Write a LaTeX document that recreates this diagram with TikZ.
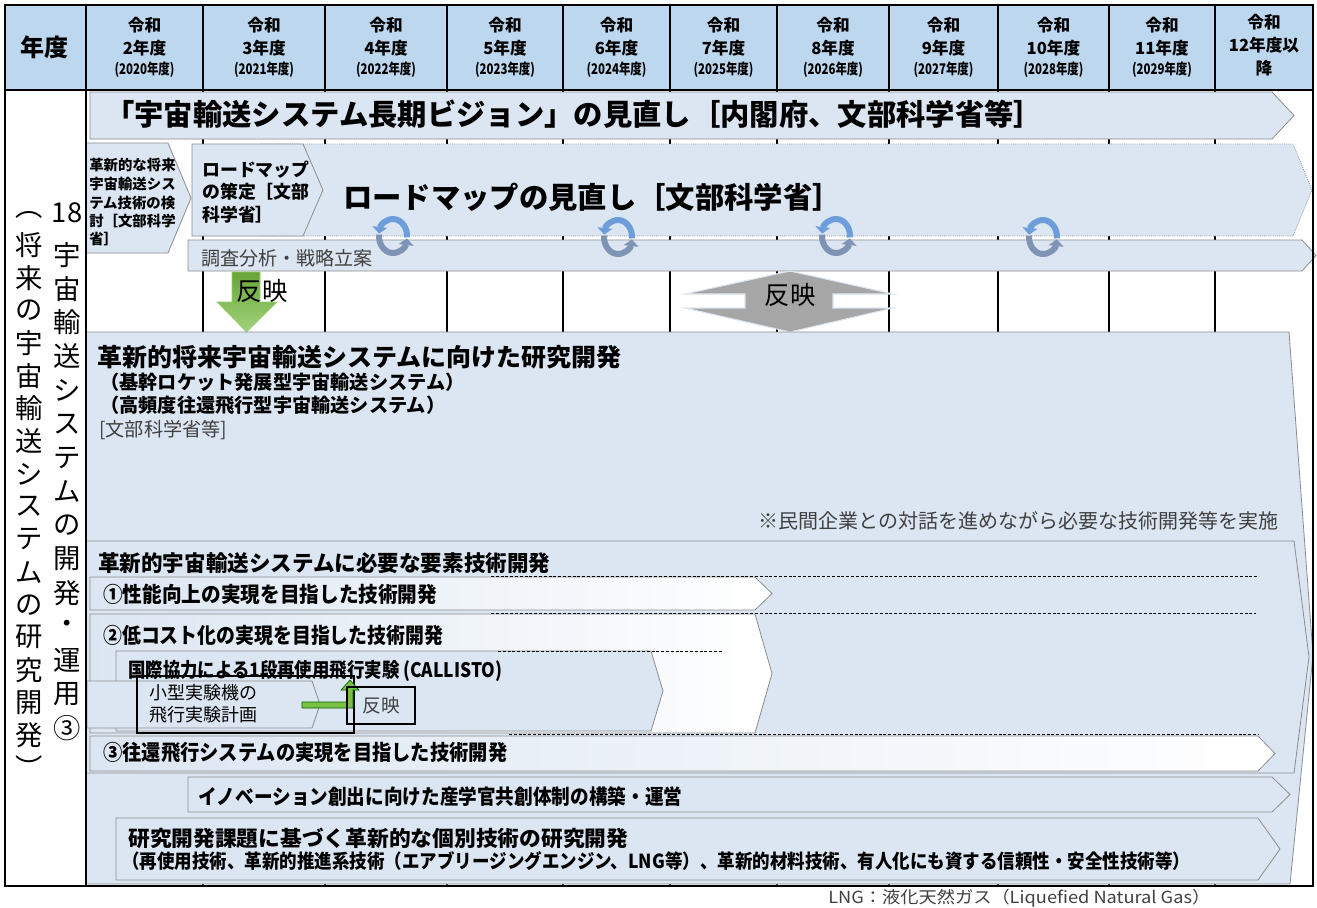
\documentclass[tikz,border=0pt]{standalone}
\usepackage{fontspec}
\setmainfont{Noto Sans CJK JP}
\usepackage{graphicx}
\usetikzlibrary{arrows.meta}
\newdimen\px \px=0.75pt
\newcommand\fs[1]{\fontsize{#1}{#1}\selectfont}
\newcommand\fitw[2]{\resizebox{#1\px}{\height}{#2}}
\definecolor{hdr}{HTML}{BDD7EE}
\definecolor{lb}{HTML}{DCE6F2}
\definecolor{bd}{HTML}{8C8C8C}
\definecolor{grn}{HTML}{7AC143}
\definecolor{cyc}{HTML}{6D9EDB}
\definecolor{cycd}{HTML}{7F93B5}
\definecolor{gry}{HTML}{A6A6A6}
\definecolor{dtx}{HTML}{404040}
\newcommand\chev[6][]{\draw[#1] (#2,#3) -- ({#4-#6},#3) -- (#4,{(#3+#5)/2}) -- ({#4-#6},#5) -- (#2,#5) -- cycle;}
\newcommand\cycicon[2]{%
  \draw[cycst,cycd,-{Triangle[width=11pt,length=5pt]}] (#1,#2) ++(185:14 and 17) arc[start angle=185,end angle=8,x radius=14,y radius=17];
  \draw[cycst,-{Triangle[width=11pt,length=5pt]}] (#1,#2) ++(5:14 and 17) arc[start angle=5,end angle=-172,x radius=14,y radius=17];}
\tikzset{
  box/.style={fill=lb, draw=bd, line width=0.6pt},
  boxdot/.style={fill=lb, draw=bd, densely dotted, line width=0.6pt},
  grad/.style={left color=lb, right color=white, draw=bd, line width=0.6pt},
  txt/.style={inner sep=0pt, anchor=west},
  vt/.style={inner sep=0pt, font=\fs{20.5}},
  hd/.style={inner sep=0pt, font=\fs{12.5}\bfseries},
  gridln/.style={black, line width=1.1pt},
  frame/.style={black, line width=1.8pt},
  dashln/.style={black, line width=0.6pt, dash pattern=on 2.2pt off 1.4pt},
  cycst/.style={cyc, line width=4.5pt},
}
\begin{document}
\begin{tikzpicture}[x=0.75pt,y=-0.75pt]
\useasboundingbox (0,0) rectangle (1317,907);
\fill[white] (0,0) rectangle (1317,907);
% header
\fill[hdr] (5,5) rectangle (1313,90);
\foreach \x in {203,325,447,563,670,777,889,998,1109,1215}
  \draw[gridln] (\x,5) -- (\x,886);
\node[inner sep=0pt, font=\fs{18}\bfseries] (hy) at (45,47) {年度};
\foreach \cx/\n/\yr [count=\i] in {144.5/2/2020,264/3/2021,386/4/2022,505/5/2023,616.5/6/2024,723.5/7/2025,833/8/2026,943.5/9/2027,1053.5/10/2028,1162/11/2029} {
  \node[hd] (ha\i) at (\cx,25) {令和};
  \node[hd] (hb\i) at (\cx,48) {\n{}年度};
  \node[inner sep=0pt, font=\fs{11}\bfseries] (hc\i) at (\cx,70) {\fitw{60}{(\yr{}年度)}};
}
\node[hd] (hal) at (1264,22) {令和};
\node[hd] (hbl) at (1264,45) {12年度以};
\node[hd] (hcl) at (1264,68) {降};
% left vertical texts
\node[vt] (v18) at (67,213) {18};
\foreach \c [count=\i] in {宇,宙,輸,送,シ,ス,テ,ム,の,開,発,・,運,用,③}
  \node[vt] (va\i) at (67,{255+33.8*(\i-1)}) {\c};
\node[vt] (vp1) at (29,215) {︵};
\foreach \c [count=\i] in {将,来,の,宇,宙,輸,送,シ,ス,テ,ム,の,研,究,開,発}
  \node[vt] (vb\i) at (29,{245+32.7*(\i-1)}) {\c};
\node[vt] (vp2) at (29,767) {︶};
% row A
\chev[box]{90}{92}{1294}{139}{22}
\node[txt, font=\fs{22}\bfseries] (ta) at (105,114) {「宇宙輸送システム長期ビジョン」の見直し［内閣府、文部科学省等］};
% row B
\chev[boxdot]{260}{144}{1312}{236}{19}
\chev[box]{86}{143}{191}{253}{23}
\chev[box]{192}{144}{323}{236}{20}
\foreach \t/\yy [count=\i] in {革新的な将来/165,宇宙輸送シス/184,テム技術の検/203,討［文部科学/221,省］/239}
  \node[txt, font=\fs{10.8}\bfseries] (tb\i) at (89,\yy) {\t};
\foreach \t/\yy [count=\i] in {ロードマップ/170,の策定［文部/192,科学省］/215}
  \node[txt, font=\fs{13.4}\bfseries] (tc\i) at (202,\yy) {\t};
\node[txt, font=\fs{22}\bfseries] (td) at (343,197) {ロードマップの見直し［文部科学省］};
% row C
\chev[box]{188}{240}{1316}{271}{14}
\node[txt, font=\fs{14.3}, text=dtx] (te) at (201,258) {調査分析・戦略立案};
\cycicon{393}{236}
\cycicon{618}{237}
\cycicon{836}{236}
\cycicon{1043}{237}
% row D
\draw[top color=grn!85!black, bottom color=grn!70!white, draw=grn!80!white] (232,272) -- (260,272) -- (260,302) -- (277,302) -- (246.5,332) -- (217,302) -- (232,302) -- cycle;
\node[inner sep=0pt, font=\fs{19}] (rf1) at (262,291) {反映};
\draw[fill=gry, draw=lb, line width=0.8pt] (685,294) -- (790,271) -- (893,294) -- (833,294) -- (833,308) -- (893,308) -- (790,332) -- (685,308) -- (745,308) -- (745,294) -- cycle;
\node[inner sep=0pt, font=\fs{19}] (rf2) at (790,295) {反映};
% row E
\draw[box] (86,332) -- (1289,332) -- (1313,655) -- (1290,884) -- (86,884) -- cycle;
\node[txt, font=\fs{18.5}\bfseries] (tf) at (97,357) {\fitw{524}{革新的将来宇宙輸送システムに向けた研究開発}};
\node[txt, font=\fs{14.4}\bfseries] (tg) at (100,382) {（基幹ロケット発展型宇宙輸送システム）};
\node[txt, font=\fs{14.4}\bfseries] (th) at (100,405) {（高頻度往還飛行型宇宙輸送システム）};
\node[txt, font=\fs{14.4}, text=dtx] (ti) at (99,430) {[文部科学省等]};
\node[inner sep=0pt, anchor=east, font=\fs{15}, text=dtx] (tj) at (1279,521) {※民間企業との対話を進めながら必要な技術開発等を実施};
% row F
\draw[box] (86,541) -- (1294,541) -- (1309,657) -- (1294,773) -- (86,773) -- cycle;
\node[txt, font=\fs{16.5}\bfseries] (tk) at (98,563) {\fitw{452}{革新的宇宙輸送システムに必要な要素技術開発}};
\chev[grad]{90}{577}{772}{610}{17}
\chev[grad]{90}{614}{772}{733}{17}
\chev[box]{116}{651}{663}{731}{12}
\node[txt, font=\fs{16}\bfseries] (tl) at (103,594) {\fitw{334}{①性能向上の実現を目指した技術開発}};
\node[txt, font=\fs{16}\bfseries] (tm) at (103,635) {\fitw{340}{②低コスト化の実現を目指した技術開発}};
\node[txt, font=\fs{15}\bfseries] (tn) at (128,671) {\fitw{374}{国際協力による1段再使用飛行実験 (CALLISTO)}};
\chev[box]{87}{681}{320}{728}{8}
\node[txt, font=\fs{13.5}] (to1) at (149,693) {小型実験機の};
\node[txt, font=\fs{13.5}] (to2) at (149,715) {飛行実験計画};
\draw[black, line width=1pt] (137,676) rectangle (354,733);
\draw[fill=grn, draw=green!40!black, line width=0.5pt] (302,702) -- (347,702) -- (347,690) -- (341,690) -- (350,680) -- (359,690) -- (353,690) -- (353,708) -- (302,708) -- cycle;
\draw[black, line width=0.8pt] (347,687) rectangle (415,724);
\node[inner sep=0pt, font=\fs{14}, text=dtx] (rf3) at (381,705) {反映};
\chev[grad]{90}{736}{1275}{771}{17}
\node[txt, font=\fs{16}\bfseries] (tp) at (103,753) {\fitw{404}{③往還飛行システムの実現を目指した技術開発}};
\draw[dashln] (491,576) -- (1259,576);
\draw[dashln] (491,613) -- (1256,613);
\draw[dashln] (498,651) -- (722,651);
\draw[dashln] (509,734) -- (1258,734);
% row G, H
\chev[box]{188}{777}{1290}{812}{18}
\node[txt, font=\fs{15.5}\bfseries] (tq) at (198,797) {\fitw{484}{イノベーション創出に向けた産学官共創体制の構築・運営}};
\chev[box]{116}{818}{1280}{880}{22}
\node[txt, font=\fs{16}\bfseries] (tr) at (128,838) {\fitw{500}{研究開発課題に基づく革新的な個別技術の研究開発}};
\node[txt, font=\fs{14.5}\bfseries] (ts) at (122,861) {\fitw{1068}{（再使用技術、革新的推進系技術（エアブリージングエンジン、LNG等）、革新的材料技術、有人化にも資する信頼性・安全性技術等）}};
% frame
\draw[frame] (5,5) rectangle (1313,886);
\draw[frame] (86,5) -- (86,886);
\draw[frame] (5,90) -- (1313,90);
% footnote
\node[txt, font=\fs{12.5}, text=dtx] (fn) at (828,898) {\fitw{382}{LNG：液化天然ガス（Liquefied Natural Gas）}};
\end{tikzpicture}
\end{document}
